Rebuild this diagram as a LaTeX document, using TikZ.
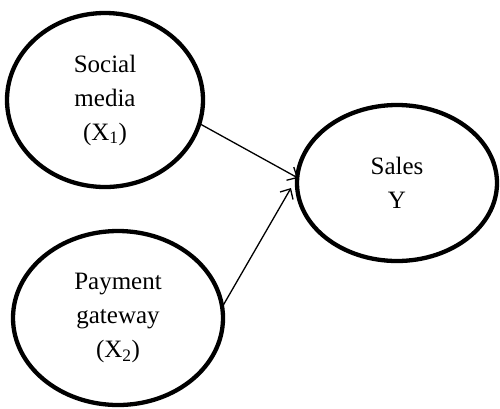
\documentclass[tikz,border=0pt]{standalone}
\usepackage{fontspec}
\setmainfont{Liberation Serif}
\usetikzlibrary{shapes.geometric,arrows.meta}

\tikzset{
  construct/.style={draw, ellipse, line width=4.3pt, inner sep=0pt, outer sep=0pt,
    align=center, font=\fontsize{25}{34}\selectfont},
  path/.style={line width=1.3pt, -{Straight Barb[length=8pt,width=15pt,line width=1.3pt]}}
}

\begin{document}
\begin{tikzpicture}[x=1pt, y=-1pt]
  \useasboundingbox (0,0) rectangle (500,408);

  \node[construct, minimum width=196pt, minimum height=174pt] (social) at (105,100)
    {Social\\media\\(X\textsubscript{1})};
  \node[construct, minimum width=210pt, minimum height=174pt] (payment) at (118,318)
    {Payment\\gateway\\(X\textsubscript{2})};
  \node[construct, minimum width=200pt, minimum height=156pt] (sales) at (397,183)
    {Sales\\Y};

  \coordinate (tipA) at ([xshift=1pt, yshift=5pt]sales.west);
  \coordinate (tipB) at ([xshift=-6pt, yshift=-5pt]sales.west);

  \draw[path] (social.-14) -- (tipA);
  \draw[path] (payment.6) -- (tipB);
\end{tikzpicture}
\end{document}
